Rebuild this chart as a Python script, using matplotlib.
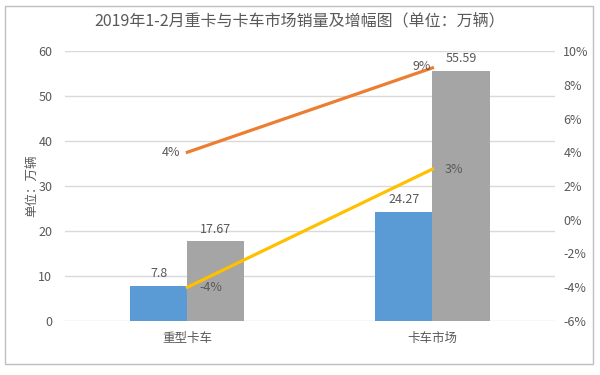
import matplotlib.pyplot as plt
import matplotlib.patches as patches
import numpy as np

plt.rcParams['font.family'] = ['Noto Sans CJK SC', 'DejaVu Sans']

# Daten
categories = ['重型卡车', '卡车市场']
sales_a = [7.8, 24.27]       # blau
sales_b = [17.67, 55.59]     # grau
growth_orange = [4, 9]       # %
growth_yellow = [-4, 3]      # %

txt = '#595959'
grid = '#D9D9D9'

fig = plt.figure(figsize=(6, 3.75), dpi=100)
ax = fig.add_axes([0.108, 0.144, 0.817, 0.72])

x = np.arange(len(categories))
w = 0.233
b1 = ax.bar(x - w/2, sales_a, w, color='#5B9BD5', zorder=2)
b2 = ax.bar(x + w/2, sales_b, w, color='#A5A5A5', zorder=2)
for bars, vals in ((b1, sales_a), (b2, sales_b)):
    for r, v in zip(bars, vals):
        ax.text(r.get_x() + r.get_width()/2, v + 1.3, f'{v:g}',
                ha='center', va='bottom', fontsize=9, color=txt)

ax.set_xlim(-0.5, 1.5)
ax.set_ylim(0, 60)
ax.set_yticks(np.arange(0, 61, 10))
ax.set_xticks(x)
ax.set_xticklabels(categories)
ax.yaxis.grid(True, color=grid, lw=1)
ax.set_axisbelow(True)
for s in ax.spines.values():
    s.set_visible(False)
ax.tick_params(length=0, colors=txt, labelsize=9)
ax.tick_params(axis='x', pad=8)
ax.tick_params(axis='y', pad=9)
ax.set_ylabel('单位：万辆', color=txt, fontsize=9)
ax.yaxis.set_label_coords(-0.055, 0.5)

ax2 = ax.twinx()
ax2.set_ylim(-6, 10)
ax2.set_yticks(np.arange(-6, 11, 2))
ax2.set_yticklabels([f'{v}%' for v in range(-6, 11, 2)])
for s in ax2.spines.values():
    s.set_visible(False)
ax2.tick_params(length=0, colors=txt, labelsize=9, pad=6)

ax2.plot(x, growth_orange, color='#ED7D31', lw=2.3, zorder=3)
ax2.plot(x, growth_yellow, color='#FFC000', lw=2.3, zorder=3)

# Beschriftungen der Linien
ax2.annotate(f'{growth_orange[0]}%', (x[0], growth_orange[0]), xytext=(-5, 0),
             textcoords='offset points', ha='right', va='center', fontsize=9, color=txt)
ax2.annotate(f'{growth_orange[1]}%', (x[1], growth_orange[1]), xytext=(-1, 1),
             textcoords='offset points', ha='right', va='center', fontsize=9, color=txt)
ax2.annotate(f'{growth_yellow[0]}%', (x[0], growth_yellow[0]), xytext=(9, 0),
             textcoords='offset points', ha='left', va='center', fontsize=9, color=txt)
ax2.annotate(f'{growth_yellow[1]}%', (x[1], growth_yellow[1]), xytext=(9, 0),
             textcoords='offset points', ha='left', va='center', fontsize=9, color=txt)

fig.text(0.5, 0.945, '2019年1-2月重卡与卡车市场销量及增幅图（单位：万辆）',
         ha='center', va='center', fontsize=11.5, color=txt)

# Rahmen des Diagramms
fig.patches.append(patches.Rectangle((0.008, 0.03), 0.98, 0.955, transform=fig.transFigure,
                                     fill=False, edgecolor='#BFBFBF', lw=1))

plt.savefig('out.png', dpi=100)
